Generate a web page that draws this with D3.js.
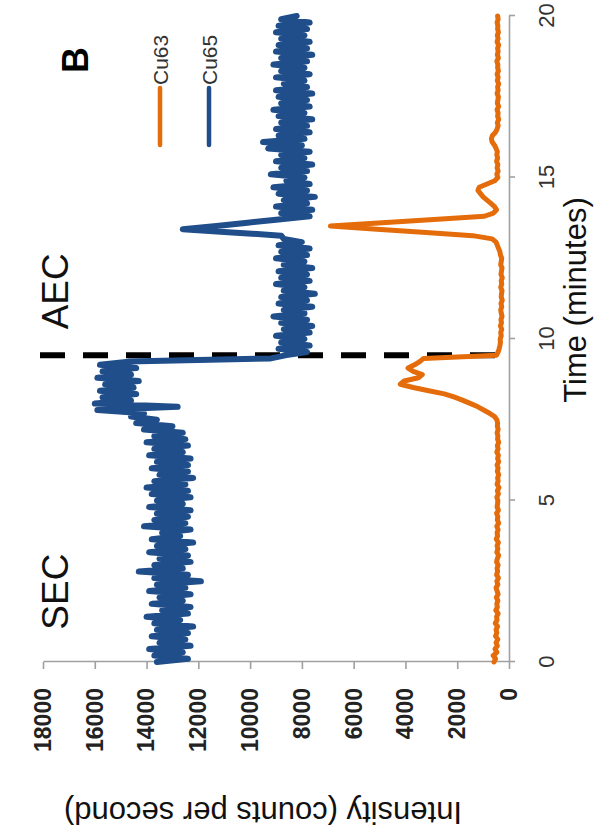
<!DOCTYPE html>
<html>
<head>
<meta charset="utf-8">
<script src="https://cdn.jsdelivr.net/npm/d3@7"></script>
<style>
  html, body { margin: 0; padding: 0; background: #fff; }
  svg { display: block; font-family: "Liberation Sans", Arial, sans-serif; }
</style>
</head>
<body>
<svg id="D3Container"></svg>
<script>

const timeTicks = [0, 5, 10, 15, 20];
const intensityTicks = [0, 2000, 4000, 6000, 8000, 10000, 12000, 14000, 16000, 18000];
const seriesNames = ["Cu63", "Cu65"];
const seriesColors = ["#e46c0a", "#1f4e8a"];
const phaseLabels = ["SEC", "AEC"];
const phaseLabelTimes = [1.0, 10.3];
const columnSwitchTime = 9.5;
const panelLetter = "B";

const timeMinutes = [
  0.0, 0.1, 0.2, 0.3, 0.4, 0.5, 0.6, 0.7, 0.8, 0.9,
  1.0, 1.1, 1.2, 1.3, 1.4, 1.5, 1.6, 1.7, 1.8, 1.9,
  2.0, 2.1, 2.2, 2.3, 2.4, 2.5, 2.6, 2.7, 2.8, 2.9,
  3.0, 3.1, 3.2, 3.3, 3.4, 3.5, 3.6, 3.7, 3.8, 3.9,
  4.0, 4.1, 4.2, 4.3, 4.4, 4.5, 4.6, 4.7, 4.8, 4.9,
  5.0, 5.1, 5.2, 5.3, 5.4, 5.5, 5.6, 5.7, 5.8, 5.9,
  6.0, 6.1, 6.2, 6.3, 6.4, 6.5, 6.6, 6.7, 6.8, 6.9,
  7.0, 7.1, 7.2, 7.3, 7.4, 7.5, 7.6, 7.7, 7.8, 7.9,
  8.0, 8.1, 8.2, 8.3, 8.4, 8.5, 8.6, 8.7, 8.8, 8.9,
  9.0, 9.1, 9.2, 9.3, 9.4, 9.5, 9.6, 9.7, 9.8, 9.9,
  10.0, 10.1, 10.2, 10.3, 10.4, 10.5, 10.6, 10.7, 10.8, 10.9,
  11.0, 11.1, 11.2, 11.3, 11.4, 11.5, 11.6, 11.7, 11.8, 11.9,
  12.0, 12.1, 12.2, 12.3, 12.4, 12.5, 12.6, 12.7, 12.8, 12.9,
  13.0, 13.1, 13.2, 13.3, 13.4, 13.5, 13.6, 13.7, 13.8, 13.9,
  14.0, 14.1, 14.2, 14.3, 14.4, 14.5, 14.6, 14.7, 14.8, 14.9,
  15.0, 15.1, 15.2, 15.3, 15.4, 15.5, 15.6, 15.7, 15.8, 15.9,
  16.0, 16.1, 16.2, 16.3, 16.4, 16.5, 16.6, 16.7, 16.8, 16.9,
  17.0, 17.1, 17.2, 17.3, 17.4, 17.5, 17.6, 17.7, 17.8, 17.9,
  18.0, 18.1, 18.2, 18.3, 18.4, 18.5, 18.6, 18.7, 18.8, 18.9,
  19.0, 19.1, 19.2, 19.3, 19.4, 19.5, 19.6, 19.7, 19.8, 19.9,
  20.0
];

const cu63 = [
  580, 520, 610, 470, 540, 450, 500, 430, 520, 470,
  500, 440, 530, 460, 480, 420, 510, 450, 470, 430,
  490, 420, 460, 500, 430, 470, 410, 480, 440, 460,
  420, 480, 450, 400, 470, 430, 460, 410, 490, 440,
  460, 420, 470, 400, 450, 430, 480, 410, 460, 440,
  430, 470, 410, 450, 390, 460, 420, 440, 400, 450,
  420, 460, 400, 440, 410, 470, 420, 450, 400, 440,
  430, 460, 420, 450, 440, 470, 560, 750, 980, 1200,
  1480, 1780, 2100, 2500, 3100, 3700, 4200, 4050, 3500, 3350,
  3700, 3900, 3650, 3450, 3300, 480, 420, 380, 350, 330,
  340, 300, 320, 280, 330, 290, 310, 270, 300, 320,
  280, 310, 260, 300, 290, 270, 320, 280, 300, 260,
  310, 290, 270, 320, 300, 280, 330, 350, 400, 450,
  500, 650, 1400, 3200, 5100, 6900, 4900, 2900, 950, 600,
  480, 560, 700, 850, 1000, 1100, 1200, 1150, 850, 550,
  430, 470, 420, 460, 430, 480, 440, 470, 450, 500,
  560, 650, 680, 640, 520, 460, 420, 450, 400, 440,
  420, 460, 400, 450, 430, 410, 460, 420, 440, 400,
  450, 420, 460, 410, 440, 430, 470, 410, 450, 420,
  440, 400, 460, 420, 450, 410, 440, 430, 460, 420,
  440
];

const cu65 = [
  13600, 12400, 13700, 12600, 13900, 12300, 13500, 12500, 13800, 12400,
  13600, 12200, 13700, 12700, 14000, 12400, 13400, 12300, 13800, 12600,
  13500, 12300, 13900, 12500, 13600, 11900, 13700, 12400, 14300, 12600,
  13700, 12300, 13500, 12400, 13900, 12500, 13600, 12200, 13800, 12700,
  13400, 12300, 14100, 12500, 13700, 12400, 13600, 12300, 13900, 12600,
  13600, 12300, 13800, 12400, 14000, 12500, 13700, 12200, 13500, 12400,
  13800, 12400, 13600, 12300, 13900, 12600, 13700, 12400, 14000, 12500,
  13700, 12600, 14100, 13000, 14400, 13600, 14600, 14100, 15900, 12800,
  16000, 14600, 15700, 14400, 15800, 14500, 15600, 14300, 15900, 14600,
  15700, 14400, 15800, 14700, 9200, 8600, 7800, 8900, 7700, 8800,
  7900, 9000, 7700, 8700, 7600, 8800, 7800, 9100, 7900, 8700,
  7600, 8900, 7800, 8800, 7500, 8700, 7900, 9000, 7700, 8800,
  7800, 8900, 7600, 8700, 7900, 9000, 7800, 8800, 7700, 8900,
  8000, 8700, 8800, 10700, 12600, 11300, 10100, 8900, 7700, 8800,
  7600, 9000, 7800, 8700, 7500, 8900, 7800, 9100, 7700, 8600,
  7900, 9200, 7800, 8800, 7600, 9000, 7900, 8800, 7700, 9300,
  8000, 9500, 7900, 8900, 7700, 9000, 7800, 8800, 7600, 8900,
  7900, 9100, 7700, 8800, 7800, 8900, 7600, 9000, 7800, 8700,
  7900, 9000, 7700, 8800, 7900, 9100, 7800, 8800, 7600, 9000,
  7800, 8900, 7700, 8800, 7900, 9000, 7800, 8900, 7700, 8800,
  8200
];

class ChromatogramD3 {

  /**
   * The figure was published turned a quarter turn, so the whole plot is drawn
   * in its normal orientation inside a group that is rotated by -90 degrees
   */
  constructor(d3) {

    this.d3 = d3;
    this.width = 599;
    this.height = 839;

    // screen position of the plot corners
    this.left = 43;      // intensity 18000
    this.right = 509;    // intensity 0
    this.bottom = 662;   // time 0
    this.top = 16;       // time 20

    this.plotW = this.bottom - this.top;
    this.plotH = this.right - this.left;
  }

  show() {

    const svg = this.d3.select("#D3Container")
      .attr("width", this.width)
      .attr("height", this.height);

    svg.selectAll("*").remove();

    this.x = this.d3.scaleLinear().domain([0, 20]).range([0, this.plotW]);
    this.y = this.d3.scaleLinear().domain([0, 18000]).range([this.plotH, 0]);

    this.g = svg.append("g")
      .attr("transform", "translate(" + this.left + "," + this.bottom + ") rotate(-90)");

    this._drawAxes();
    this._drawTraces();
    this._drawLabels();
  }

  // screen point -> local (rotated) point
  _local(sx, sy) {

    return [this.bottom - sy, sx - this.left];
  }

  _drawAxes() {

    const d3 = this.d3;

    const timeAxis = this.g.append("g")
      .attr("transform", "translate(0," + this.plotH + ")")
      .call(d3.axisBottom(this.x).tickValues(timeTicks).tickSize(6).tickPadding(23).tickSizeOuter(0));

    timeAxis.selectAll("text")
      .attr("fill", "#333")
      .style("font-size", "22px");

    const intensityAxis = this.g.append("g")
      .call(d3.axisLeft(this.y).tickValues(intensityTicks).tickSize(7).tickPadding(19).tickSizeOuter(0)
        .tickFormat(d3.format("d")));

    intensityAxis.selectAll("text")
      .attr("fill", "#222")
      .style("font-size", "23px")
      .style("font-weight", "bold");

    this.g.selectAll(".domain, .tick line")
      .attr("stroke", "#a0a0a0")
      .attr("stroke-width", 1.6);
  }

  _drawTraces() {

    const d3 = this.d3;
    const series = [cu63, cu65];
    const widths = [5, 6];

    // column switch marker
    const [, ly0] = this._local(40, 0);
    const [, ly1] = this._local(507, 0);

    this.g.append("line")
      .attr("x1", this.x(columnSwitchTime))
      .attr("x2", this.x(columnSwitchTime))
      .attr("y1", ly0)
      .attr("y2", ly1)
      .attr("stroke", "#000")
      .attr("stroke-width", 6)
      .attr("stroke-dasharray", "25,18");

    // Cu65 is drawn after Cu63, as in the figure
    series.forEach((values, i) => {

      const line = d3.line()
        .x((d, j) => this.x(timeMinutes[j]))
        .y(d => this.y(d));

      this.g.append("path")
        .datum(values)
        .attr("d", line)
        .attr("fill", "none")
        .attr("stroke", seriesColors[i])
        .attr("stroke-width", widths[i])
        .attr("stroke-linejoin", "round")
        .attr("stroke-linecap", "round");
    });
  }

  _drawLabels() {

    const g = this.g;

    // phase names
    phaseLabels.forEach((label, i) => {

      const [, ly] = this._local(68, 0);

      g.append("text")
        .attr("x", this.x(phaseLabelTimes[i]))
        .attr("y", ly)
        .attr("fill", "#111")
        .style("font-size", "37px")
        .text(label);
    });

    // panel letter
    const [bx, by] = this._local(88, 73);

    g.append("text")
      .attr("x", bx)
      .attr("y", by)
      .attr("fill", "#000")
      .style("font-size", "36px")
      .style("font-weight", "bold")
      .text(panelLetter);

    // legend
    const legendX = [160, 209];

    seriesNames.forEach((name, i) => {

      const [lx0, ly] = this._local(legendX[i], 145);
      const [lx1] = this._local(legendX[i], 88);

      g.append("line")
        .attr("x1", lx0)
        .attr("x2", lx1)
        .attr("y1", ly)
        .attr("y2", ly)
        .attr("stroke", seriesColors[i])
        .attr("stroke-width", 4.5)
        .attr("stroke-linecap", "round");

      g.append("text")
        .attr("x", lx1 + 3)
        .attr("y", ly + 8)
        .attr("fill", "#333")
        .style("font-size", "21px")
        .text(name);
    });

    // axis titles
    const [tx, ty] = this._local(586, 300);

    g.append("text")
      .attr("x", tx)
      .attr("y", ty)
      .attr("text-anchor", "middle")
      .attr("fill", "#111")
      .style("font-size", "31px")
      .text("Time (minutes)");

    const [ix, iy] = this._local(263, 802);

    g.append("text")
      .attr("transform", "translate(" + ix + "," + iy + ") rotate(-90)")
      .attr("text-anchor", "middle")
      .attr("fill", "#111")
      .style("font-size", "31px")
      .text("Intensity (counts per second)");
  }
}

new ChromatogramD3(d3).show();

</script>
</body>
</html>
